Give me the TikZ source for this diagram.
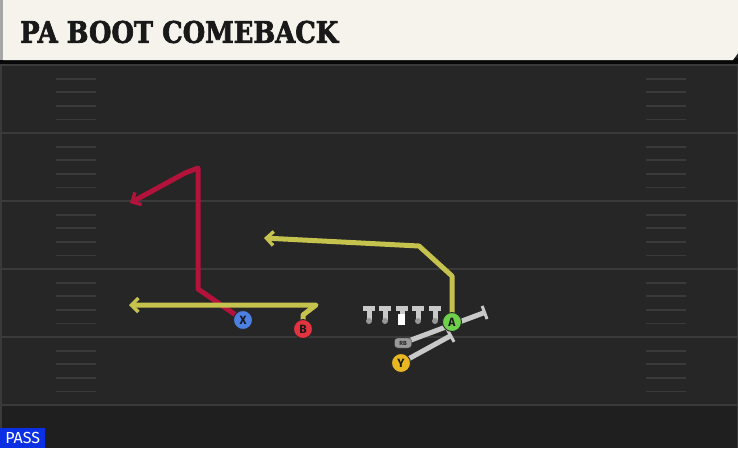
\documentclass[tikz,border=0pt]{standalone}
\usepackage{fontspec}
\setmainfont{DejaVu Sans}
\newfontfamily\titlefont[BoldFeatures={FakeBold=2.5}]{DejaVu Serif}
\newfontfamily\tagfont{Fira Sans}
\usetikzlibrary{arrows.meta}

\definecolor{turf}{HTML}{262626}
\definecolor{turfdark}{HTML}{1F1F1F}
\definecolor{yardgray}{HTML}{3A3A3A}
\definecolor{cream}{HTML}{F5F3EC}
\definecolor{crimson}{HTML}{B3123A}
\definecolor{olive}{HTML}{C6C24E}
\definecolor{blocker}{HTML}{C9C9C9}
\definecolor{xblue}{HTML}{4C80E2}
\definecolor{bred}{HTML}{E2333F}
\definecolor{agreen}{HTML}{6FD14B}
\definecolor{ygold}{HTML}{E9B722}
\definecolor{passblue}{HTML}{0B2FE3}

\tikzset{
  yardline/.style={draw=yardgray, line width=2pt},
  hashline/.style={draw=yardgray, line width=1.8pt},
  route/.style={line width=5pt, line join=round},
  routetip/.style={-{Straight Barb[length=7pt,width=14pt,line width=3.4pt]}},
  blockline/.style={draw=blocker, line width=5pt,
    -{Bar[width=14pt,line width=3pt]}},
  player/.style={circle, draw=black!85, line width=0.9pt, minimum size=19pt,
    inner sep=0pt, text=black!90, font=\tagfont\bfseries\fontsize{12}{12}\selectfont},
}

\begin{document}
\begin{tikzpicture}[x=1pt,y=-1pt]
  \useasboundingbox (0,0) rectangle (738,448);
  \fill[turf] (0,0) rectangle (738,448);
  \fill[turfdark] (0,405) rectangle (738,448);

  \foreach \y in {65,133,...,405}
    \draw[yardline] (0,\y) -- (738,\y);
  \foreach \b in {0,...,4}
    \foreach \k in {1,...,4} {
      \draw[hashline] (56,65+68*\b+13.6*\k) -- (96,65+68*\b+13.6*\k);
      \draw[hashline] (646,65+68*\b+13.6*\k) -- (686,65+68*\b+13.6*\k);
    }
  \draw[yardgray, line width=1.5pt] (1,60) -- (1,448);
  \draw[yardgray, line width=1pt] (737.5,60) -- (737.5,448);

  \fill[black!80!turf] (0,58) rectangle (738,64);
  \fill[black!35] (0,0) rectangle (3,60);
  \fill[cream] (3,0) -- (738,0) -- (738,53) -- (733,60) -- (3,60) -- cycle;
  \node[anchor=west, inner sep=0pt, text=black!90] (title) at (20,32)
    {\resizebox{318pt}{22pt}{\titlefont\bfseries PA BOOT COMEBACK}};

  \coordinate (pX) at (243,320);
  \coordinate (pB) at (303,329);
  \coordinate (pA) at (452,322);
  \coordinate (pY) at (401,363);
  \coordinate (pRB) at (403,343);

  \foreach \x in {369,385,402,418,435} {
    \fill[blocker] (\x-6,306) rectangle (\x+6,311);
    \fill[blocker] (\x-2.5,311) rectangle (\x+2.5,320);
    \fill[blocker!75!black] (\x,321) circle (3);
  }
  \fill[white] (398,314) rectangle (405,325);

  \coordinate (rbEnd) at (486,312);
  \coordinate (yEnd) at (452,335);
  \draw[blockline] (pRB) -- (rbEnd);
  \draw[blockline] (pY) -- (yEnd);

  \draw[route, routetip, crimson] (pX) -- (198,289) -- (198,168) -- (185,173) -- (130,203);
  \draw[route, routetip, olive] (pB) -- (303,315) -- (316,305) -- (129,305);
  \draw[route, routetip, olive] (pA) -- (452,276) -- (419,246) -- (264,238);

  \node[player, fill=xblue] (X) at (pX) {X};
  \node[player, fill=bred] (B) at (pB) {B};
  \node[player, fill=agreen] (A) at (pA) {A};
  \node[player, fill=ygold] (Y) at (pY) {Y};
  \node[draw=black!80, fill=black!40, rounded corners=3pt, minimum width=17pt,
    minimum height=10pt, inner sep=0pt, text=black!85,
    font=\tagfont\bfseries\fontsize{6}{6}\selectfont] (RB) at (pRB) {RB};

  \node[anchor=south west, fill=passblue, text=white, inner sep=0pt,
    minimum width=45pt, minimum height=20pt,
    font=\tagfont\fontsize{16}{16}\selectfont] (play) at (0,448) {PASS};
\end{tikzpicture}
\end{document}
